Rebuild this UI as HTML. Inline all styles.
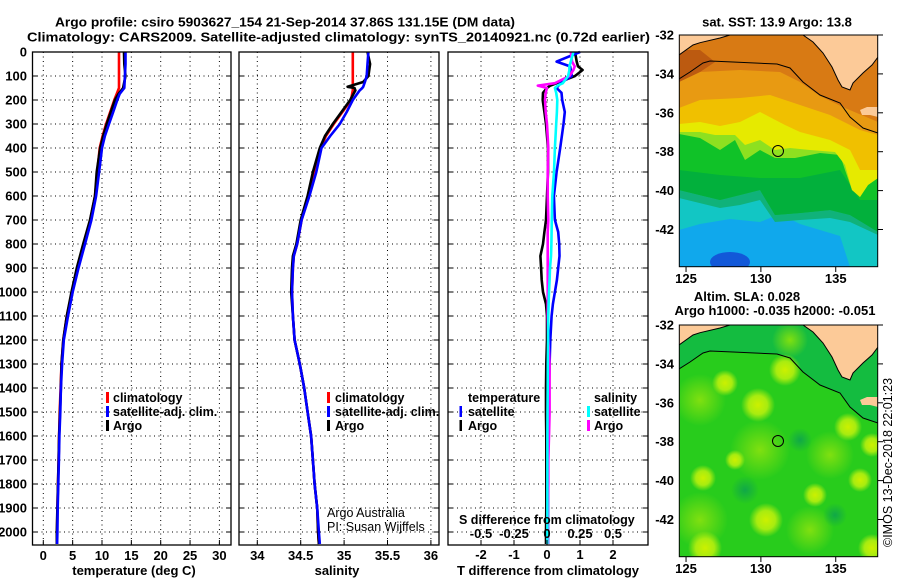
<!DOCTYPE html>
<html><head><meta charset="utf-8"><style>
html,body{margin:0;padding:0;background:#fff}
svg{display:block}
text{font-family:"Liberation Sans",Arial,sans-serif;fill:#000}
.b{font-weight:bold;font-size:13px}
.lg{font-weight:bold;font-size:12.5px}
.n{font-size:12.5px}
</style></head><body>
<svg id="fig" width="900" height="580" viewBox="0 0 900 580" xmlns="http://www.w3.org/2000/svg">
<rect width="900" height="580" fill="#fff"/>
<text class="b" x="55" y="26.5" textLength="460" lengthAdjust="spacingAndGlyphs">Argo profile: csiro 5903627_154 21-Sep-2014 37.86S 131.15E (DM data)</text>
<text class="b" x="27" y="41.5" textLength="623" lengthAdjust="spacingAndGlyphs">Climatology: CARS2009. Satellite-adjusted climatology: synTS_20140921.nc (0.72d earlier)</text>
<g id="grids"></g>
<g id="series"></g>
<g id="frames"></g>
<g id="labels"></g>

<!-- legends -->
<g>
<rect x="106" y="392" width="3" height="11" fill="#f00"/>
<text class="lg" x="113" y="402">climatology</text>
<rect x="106" y="406" width="3" height="11" fill="#00f"/>
<text class="lg" x="113" y="416">satellite-adj. clim.</text>
<rect x="106" y="420" width="3" height="11" fill="#000"/>
<text class="lg" x="113" y="430">Argo</text>
</g>
<g>
<rect x="327" y="392" width="3" height="11" fill="#f00"/>
<text class="lg" x="335" y="402">climatology</text>
<rect x="327" y="406" width="3" height="11" fill="#00f"/>
<text class="lg" x="335" y="416">satellite-adj. clim.</text>
<rect x="327" y="420" width="3" height="11" fill="#000"/>
<text class="lg" x="335" y="430">Argo</text>
<text class="n" x="327" y="517">Argo Australia</text>
<text class="n" x="327" y="531">PI: Susan Wijffels</text>
</g>
<g>
<text class="lg" x="468" y="402">temperature</text>
<rect x="459.5" y="406" width="2.5" height="11" fill="#00f"/>
<text class="lg" x="468" y="416">satellite</text>
<rect x="459.5" y="420" width="2.5" height="11" fill="#000"/>
<text class="lg" x="468" y="430">Argo</text>
<text class="lg" x="594" y="402">salinity</text>
<rect x="587" y="406" width="3" height="11" fill="#0ff"/>
<text class="lg" x="594" y="416">satellite</text>
<rect x="587" y="420" width="3" height="11" fill="#f0f"/>
<text class="lg" x="594" y="430">Argo</text>
<text class="lg" x="459" y="524">S difference from climatology</text>
</g>

<!-- SST map -->
<g>
<text class="b" x="777" y="26.5" text-anchor="middle">sat. SST: 13.9 Argo: 13.8</text>
<clipPath id="mc1"><rect x="679.3" y="35" width="198.4" height="231.7"/></clipPath>
<g clip-path="url(#mc1)">
<rect x="679" y="35" width="200" height="232" fill="#12c6c4"/>
<polygon fill="#10a8ec" points="679,230 700,224 730,219 760,222 780,214 800,224 840,236 850,267 679,267"/>
<ellipse cx="730" cy="262" rx="20" ry="10" fill="#1258d8"/>
<polygon fill="#10b27a" points="679,35 878,35 878,235 850,222 830,218 800,220 775,222 760,200 740,205 720,208 679,198"/>
<polygon fill="#10c228" points="679,35 878,35 878,230 850,215 830,210 800,213 775,215 760,190 740,195 720,200 679,190"/>
<polygon fill="#02b03c" points="679,170 720,175 760,178 800,178 840,170 860,200 878,200 878,232 850,215 830,210 800,213 775,215 760,190 740,195 720,200 679,190"/>
<polygon fill="#8ee020" points="679,35 878,35 878,178 868,185 860,197 852,190 845,170 840,155 820,153 795,158 775,158 760,150 745,160 735,140 720,150 700,138 679,134"/>
<polygon fill="#e6ea00" points="679,35 878,35 878,178 868,185 860,197 852,190 845,165 835,152 810,150 790,148 775,150 760,140 745,145 735,135 715,135 700,132 679,132"/>
<polygon fill="#f0c000" points="679,35 878,35 878,170 860,170 850,150 830,140 800,132 785,125 760,112 740,122 720,126 700,122 679,124"/>
<polygon fill="#e89a12" points="679,35 878,35 878,135 860,130 830,115 800,105 770,95 740,98 700,100 679,108"/>
<polygon fill="#d87a14" points="679,35 878,35 878,122 845,108 820,96 800,82 780,72 740,70 700,72 679,82"/>
<polygon fill="#bc5a10" points="679,50 700,50 715,62 700,72 679,82"/>
<g id="land1">
<polygon fill="#fcca98" points="679,35 730,35 720,38 700,42.7 693,45 679,55"/>
<polygon fill="#fcca98" points="803,35 813,42 823,53 832,67 838,80 842,87 850,90 853,83 863,73 872,65 878,57 878,35"/>
<polygon fill="#fcca98" points="860,110 867,107 878,107 878,117 870,115 862,115"/>
<polyline fill="none" stroke="#000" stroke-width="1" points="679,55 693,45 700,42.7 720,38 730,35"/>
<polyline fill="none" stroke="#000" stroke-width="1" points="803,35 813,42 823,53 832,67 838,80 842,87 850,90 853,83 863,73 872,65 878,57"/>
<polyline fill="none" stroke="#000" stroke-width="1" points="679,79 690,72 703,63 710,61 733,62 777,64 790,68 803,82 820,95 840,103 850,117 863,128 878,133"/>
</g>
</g>
<circle cx="778" cy="151" r="5.5" fill="none" stroke="#000" stroke-width="1"/>
<rect x="679.3" y="35" width="198.4" height="231.7" fill="none" stroke="#000" stroke-width="1"/>
</g>

<!-- SLA map -->
<g>
<text class="b" x="747" y="301" text-anchor="middle">Altim. SLA: 0.028</text>
<text class="b" x="775" y="315" text-anchor="middle">Argo h1000: -0.035 h2000: -0.051</text>
<defs>
<radialGradient id="blob"><stop offset="0" stop-color="#ccf000"/><stop offset="0.55" stop-color="#a8ec10"/><stop offset="1" stop-color="#a8ec10" stop-opacity="0"/></radialGradient>
<radialGradient id="blob2"><stop offset="0" stop-color="#80e010"/><stop offset="1" stop-color="#80e010" stop-opacity="0"/></radialGradient>
<radialGradient id="dk"><stop offset="0" stop-color="#10a848"/><stop offset="1" stop-color="#10a848" stop-opacity="0"/></radialGradient>
</defs>
<clipPath id="mc2"><rect x="679.3" y="325" width="198.4" height="231.7"/></clipPath>
<g clip-path="url(#mc2)">
<rect x="679" y="325" width="200" height="232" fill="#28cc1c"/>
<polygon fill="#14bc40" points="679,325 878,325 878,423 863,418 850,407 840,393 820,385 803,372 790,358 777,354 733,352 710,351 703,353 690,362 679,369"/>
<g>
<circle cx="790" cy="340" r="18" fill="url(#blob2)"/>
<circle cx="700" cy="400" r="26" fill="url(#blob2)"/>
<circle cx="760" cy="450" r="30" fill="url(#blob2)"/>
<circle cx="830" cy="455" r="24" fill="url(#blob2)"/>
<circle cx="700" cy="520" r="28" fill="url(#blob2)"/>
<circle cx="810" cy="530" r="24" fill="url(#blob2)"/>
<circle cx="725" cy="383" r="13" fill="url(#blob)"/>
<circle cx="785" cy="370" r="16" fill="url(#blob)"/>
<circle cx="758" cy="405" r="17" fill="url(#blob)"/>
<circle cx="848" cy="427" r="14" fill="url(#blob)"/>
<circle cx="872" cy="445" r="12" fill="url(#blob)"/>
<circle cx="703" cy="478" r="13" fill="url(#blob)"/>
<circle cx="766" cy="520" r="17" fill="url(#blob)"/>
<circle cx="815" cy="495" r="12" fill="url(#blob)"/>
<circle cx="860" cy="480" r="12" fill="url(#blob)"/>
<circle cx="705" cy="548" r="17" fill="url(#blob)"/>
<circle cx="872" cy="548" r="14" fill="url(#blob)"/>
<circle cx="735" cy="460" r="10" fill="url(#blob)"/>
<circle cx="745" cy="490" r="14" fill="url(#dk)"/>
<circle cx="800" cy="440" r="12" fill="url(#dk)"/>
<circle cx="835" cy="515" r="12" fill="url(#dk)"/>
</g>
<g transform="translate(0,290)">
<polygon fill="#fcca98" points="679,35 730,35 720,38 700,42.7 693,45 679,55"/>
<polygon fill="#fcca98" points="803,35 813,42 823,53 832,67 838,80 842,87 850,90 853,83 863,73 872,65 878,57 878,35"/>
<polygon fill="#fcca98" points="860,110 867,107 878,107 878,117 870,115 862,115"/>
<polyline fill="none" stroke="#000" stroke-width="1" points="679,55 693,45 700,42.7 720,38 730,35"/>
<polyline fill="none" stroke="#000" stroke-width="1" points="803,35 813,42 823,53 832,67 838,80 842,87 850,90 853,83 863,73 872,65 878,57"/>
<polyline fill="none" stroke="#000" stroke-width="1" points="679,79 690,72 703,63 710,61 733,62 777,64 790,68 803,82 820,95 840,103 850,117 863,128 878,133"/>
</g>
</g>
<circle cx="778" cy="441" r="5.5" fill="none" stroke="#000" stroke-width="1"/>
<rect x="679.3" y="325" width="198.4" height="231.7" fill="none" stroke="#000" stroke-width="1"/>
</g>
<text class="n" transform="translate(892,547) rotate(-90)">©IMOS 13-Dec-2018 22:01:23</text>
<g id="maplabels"></g>

<script>
// ---- data ----
const tDepth = [0,50,100,150,175,200,250,300,350,400,500,600,700,800,900,1000,1100,1200,1300,1400,1500,1600,1700,1800,1900,2000,2050];
const tArgo = [13.75,13.8,14.0,13.6,12.8,12.2,11.5,10.8,10.2,9.7,9.1,8.8,7.96,6.8,5.7,4.8,4.0,3.4,3.1,3.0,2.85,2.7,2.6,2.5,2.4,2.3,2.3];
const tClim = [12.9,12.9,12.9,12.9,12.5,12.1,11.4,10.7,10.1,9.6,9.2,8.8,8.0,6.9,5.8,4.9,4.0,3.4,3.1,2.95,2.8,2.7,2.6,2.5,2.4,2.35,2.3];
const tSat = [14.0,14.0,13.9,13.8,13.0,12.6,11.9,11.2,10.5,10.0,9.5,9.0,8.2,7.1,6.0,5.0,4.2,3.5,3.2,3.0,2.9,2.75,2.65,2.55,2.45,2.4,2.35];

const sDepth = [0,50,100,125,145,150,160,200,250,300,350,400,500,600,700,800,850,900,1000,1100,1200,1300,1400,1500,1600,1700,1800,1900,2000,2050];
const sArgo = [35.27,35.3,35.28,35.22,35.04,35.12,35.13,35.07,34.97,34.87,34.78,34.72,34.64,34.58,34.5,34.45,34.41,34.4,34.39,34.41,34.43,34.49,34.54,34.58,34.62,34.64,34.66,34.69,34.7,34.71];
const sClim = [35.1,35.1,35.1,35.1,35.1,35.1,35.1,35.08,34.98,34.88,34.79,34.73,34.65,34.59,34.51,34.46,34.42,34.41,34.4,34.41,34.43,34.49,34.54,34.58,34.62,34.64,34.66,34.69,34.7,34.71];
const sSat = [35.28,35.27,35.26,35.24,35.22,35.21,35.18,35.1,35.03,34.95,34.84,34.74,34.68,34.6,34.51,34.46,34.42,34.41,34.4,34.41,34.43,34.49,34.54,34.58,34.62,34.64,34.66,34.69,34.71,34.72];

const dDepth = [0,40,60,75,100,130,140,150,170,200,250,300,400,500,600,700,750,800,850,900,950,1000,1050,1100,1200,1300,1400,1500,1600,1700,1800,1900,2000,2050];
const dTArgo = [0.85,0.9,0.94,1.08,0.85,0.29,0.1,0,-0.12,-0.13,-0.08,-0.03,0.03,0.03,0,-0.03,-0.08,-0.12,-0.2,-0.18,-0.16,-0.12,-0.03,0,0,-0.02,-0.03,-0.03,-0.02,-0.02,-0.02,-0.02,-0.03,-0.03];
const dTSat = [1.0,0.29,0.7,0.72,0.75,0.4,0.35,0.29,0.44,0.46,0.54,0.5,0.4,0.29,0.21,0.24,0.34,0.37,0.38,0.34,0.3,0.24,0.18,0.14,0.1,0.08,0.06,0.05,0.04,0.03,0.03,0.03,0.03,0.03];
const dSArgo = [0.18,0.19,0.21,0.2,0.17,0.06,-0.07,0,-0.01,-0.015,-0.01,0,0.01,0.005,0.005,0.01,0.005,0.005,0.005,0.005,0.005,0.005,0.005,0.005,0.01,0.02,0.02,0.02,0.015,0.01,0.01,0.005,0.005,0.005];
const dSSat = [0.2,0.18,0.17,0.17,0.16,0.12,0.08,0.06,0.07,0.078,0.075,0.07,0.06,0.053,0.04,0.036,0.035,0.033,0.03,0.023,0.02,0.015,0.012,0.01,0.008,0.006,0.005,0.004,0.003,0.003,0.003,0.003,0.003,0.003];

const depthTicks = [0,100,200,300,400,500,600,700,800,900,1000,1100,1200,1300,1400,1500,1600,1700,1800,1900,2000];
const tTicks = [0,5,10,15,20,25,30];
const sTicks = [34,34.5,35,35.5,36];
const sTickLabels = ["34","34.5","35","35.5","36"];
const dTTicks = [-2,-1,0,1,2];
const dSTicks = [-0.5,-0.25,0,0.25,0.5];
const dSTickLabels = ["-0.5","-0.25","0","0.25","0.5"];
const latTicks = [-32,-34,-36,-38,-40,-42];
const lonTicks = [125,130,135];

// ---- scales ----
const yD = d => 52 + d*0.24;
const xT = t => 43.3 + t*5.87;
const xS = s => 257.3 + (s-34)*86.8;
const xdT = v => 547 + v*33;
const xdS = v => 547 + v*132;
const lonX = lo => 679.3 + (lo-124.55)*14.97;
const latY = (la, top) => top + (-32-la)*19.45;

const NS = "http://www.w3.org/2000/svg";
function mk(tag, attrs, parent){const e=document.createElementNS(NS,tag);for(const k in attrs)e.setAttribute(k,attrs[k]);parent.appendChild(e);return e;}
const grids=document.getElementById('grids'), series=document.getElementById('series'), frames=document.getElementById('frames'), labels=document.getElementById('labels');
const panels=[{x0:32.5,x1:231},{x0:239,x1:439},{x0:448,x1:648}];
const Y0=52, Y1=545;

// grids
panels.forEach((p,i)=>{
  depthTicks.slice(1).forEach(d=>{
    const l=mk('line',{x1:p.x0,x2:p.x1,y1:yD(d),y2:yD(d),stroke:'#000','stroke-width':1,'stroke-dasharray':'1 3.5'},grids);
    
    
    const a=mk('line',{x1:p.x0,x2:p.x0+5,y1:yD(d),y2:yD(d),stroke:'#000','stroke-width':1},frames);
    
    
    const b=mk('line',{x1:p.x1-5,x2:p.x1,y1:yD(d),y2:yD(d),stroke:'#000','stroke-width':1},frames);
    
    
  });
  const r=mk('rect',{x:p.x0,y:Y0,width:p.x1-p.x0,height:Y1-Y0,fill:'none',stroke:'#000','stroke-width':1.3},frames);
  
  
});
function vgrid(xs, fx){xs.forEach(v=>{
  const l=mk('line',{x1:fx(v),x2:fx(v),y1:Y0,y2:Y1,stroke:'#000','stroke-width':1,'stroke-dasharray':'1 3.5'},grids);
  
  
  const t=mk('line',{x1:fx(v),x2:fx(v),y1:Y1-5,y2:Y1,stroke:'#000','stroke-width':1},frames);
  
  
});}
vgrid(tTicks,xT); vgrid(sTicks,xS); vgrid(dTTicks,xdT);

// series
function line(dep, vals, fx, color, name, w){
  const pts=dep.map((d,i)=>fx(vals[i]).toFixed(1)+','+yD(d).toFixed(1)).join(' ');
  const e=mk('polyline',{points:pts,fill:'none',stroke:color,'stroke-width':w||2.6,'stroke-linejoin':'round'},series);
  
  
}
line(tDepth,tClim,xT,'#f00','temperature-climatology-line');
line(tDepth,tArgo,xT,'#000','temperature-argo-line');
line(tDepth,tSat,xT,'#00f','temperature-satellite-line');
line(sDepth,sClim,xS,'#f00','salinity-climatology-line');
line(sDepth,sArgo,xS,'#000','salinity-argo-line');
line(sDepth,sSat,xS,'#00f','salinity-satellite-line');
line(dDepth,dTArgo,xdT,'#000','t-diff-argo-line');
line(dDepth,dTSat,xdT,'#00f','t-diff-satellite-line');
line(dDepth,dSArgo,xdS,'#f0f','s-diff-argo-line');
line(dDepth,dSSat,xdS,'#0ff','s-diff-satellite-line');

// labels
function txt(s,x,y,anchor,cls,name,parent){const e=mk('text',{x:x,y:y,'text-anchor':anchor,'class':cls},parent||labels);e.textContent=s;
  
  
  return e;}
depthTicks.forEach(d=>txt(String(d),27,yD(d)+4.5,'end','b','depth-tick-label'));
tTicks.forEach(v=>txt(String(v),xT(v),560,'middle','b','temperature-tick-label'));
sTicks.forEach((v,i)=>txt(sTickLabels[i],xS(v),560,'middle','b','salinity-tick-label'));
dTTicks.forEach(v=>txt(String(v),xdT(v),559,'middle','b','t-diff-tick-label'));
dSTicks.forEach((v,i)=>txt(dSTickLabels[i],xdS(v),538,'middle','b','s-diff-tick-label'));
txt('temperature (deg C)',134,575,'middle','b','x-axis-title-temperature');
txt('salinity',337,575,'middle','b','x-axis-title-salinity');
txt('T difference from climatology',548,575,'middle','b','x-axis-title-t-difference');

// map axes
const ml=document.getElementById('maplabels');
[35,325].forEach((top,mi)=>{
  latTicks.forEach(la=>{
    const y=latY(la,top);
    txt(String(la),674,y+4.5,'end','b','latitude-label',ml);
    const t=mk('line',{x1:877.7,x2:883,y1:y,y2:y,stroke:'#000','stroke-width':1},ml);
    
    
  });
  lonTicks.forEach(lo=>{
    const x=lonX(lo);
    txt(String(lo),x,top+248,'middle','b','longitude-label',ml);
    const t=mk('line',{x1:x,x2:x,y1:top+231.7,y2:top+237,stroke:'#000','stroke-width':1},ml);
    
    
  });
});
</script>
</svg>
</body></html>
